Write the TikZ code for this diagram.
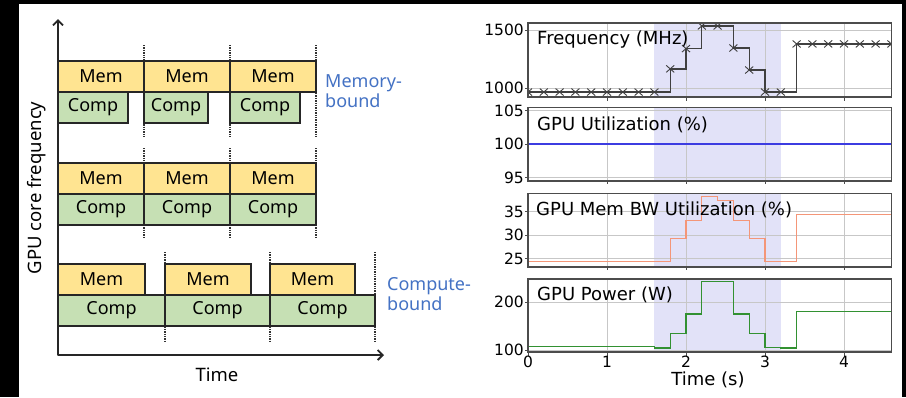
\documentclass[tikz,border=0pt]{standalone}
\usepackage{fontspec}
\setmainfont{Noto Sans}
\newfontfamily\plotfamily{DejaVu Sans}
\usetikzlibrary{arrows.meta, positioning}

\definecolor{memfill}{RGB}{255,228,145}
\definecolor{compfill}{RGB}{198,224,180}
\definecolor{boundblue}{RGB}{68,114,196}
\definecolor{spanblue}{RGB}{226,226,248}
\definecolor{utilblue}{RGB}{60,60,225}
\definecolor{bwsalmon}{RGB}{244,150,120}
\definecolor{powgreen}{RGB}{50,145,50}

\begin{document}
\begin{tikzpicture}[x=1pt, y=-1pt,
    every node/.style={inner sep=0pt},
    membox/.style={draw=black!85, line width=1.6pt, fill=memfill, minimum height=31pt,
      font=\fontsize{18}{20}\selectfont},
    compbox/.style={membox, fill=compfill},
    cyclesep/.style={black!80, line width=1.4pt, densely dotted},
    axisline/.style={line width=1.8pt, black!85, line join=round,
      {Straight Barb[length=5pt, width=10pt]}-{Straight Barb[length=5pt, width=10pt]}},
    sidelabel/.style={font=\fontsize{18}{20}\selectfont, text=boundblue, anchor=base west},
    leftlabel/.style={font=\fontsize{18.5}{20}\selectfont},
    panelframe/.style={draw=black!70, line width=1.3pt},
    gridline/.style={black!22, line width=0.8pt},
    tickmark/.style={black!70, line width=1pt},
    paneltitle/.style={font=\plotfamily\fontsize{18}{20}\selectfont, anchor=west},
    ticklabel/.style={font=\plotfamily\fontsize{15.5}{18}\selectfont},
    xmk/.style={black!75, line width=0.9pt},
  ]
  % frame of the picture
  \fill[black] (0,0) rectangle (906,397);
  \fill[white] (19,4) rectangle (902,397);

  %% left: memory-bound vs compute-bound
  \draw[cyclesep] (144,45) -- (144,137);
  \draw[cyclesep] (230,45) -- (230,137);
  \draw[cyclesep] (316,45) -- (316,137);
  \draw[cyclesep] (144,148) -- (144,238);
  \draw[cyclesep] (230,148) -- (230,238);
  \draw[cyclesep] (316,148) -- (316,238);
  \draw[cyclesep] (165,252) -- (165,342);
  \draw[cyclesep] (270,252) -- (270,342);
  \draw[cyclesep] (375,252) -- (375,342);

  \node[membox, minimum width=86pt] (memA1) at (101,76.5) {Mem};
  \node[membox, minimum width=86pt] (memA2) at (187,76.5) {Mem};
  \node[membox, minimum width=86pt] (memA3) at (273,76.5) {Mem};
  \node[compbox, minimum width=70pt] (compA1) at (93,107.5) {Comp};
  \node[compbox, minimum width=64pt] (compA2) at (176,107.5) {Comp};
  \node[compbox, minimum width=70pt] (compA3) at (265,107.5) {Comp};

  \node[membox, minimum width=86pt] (memB1) at (101,178.5) {Mem};
  \node[membox, minimum width=86pt] (memB2) at (187,178.5) {Mem};
  \node[membox, minimum width=86pt] (memB3) at (273,178.5) {Mem};
  \node[compbox, minimum width=86pt] (compB1) at (101,209.5) {Comp};
  \node[compbox, minimum width=86pt] (compB2) at (187,209.5) {Comp};
  \node[compbox, minimum width=86pt] (compB3) at (273,209.5) {Comp};

  \node[membox, minimum width=87pt] (memC1) at (101.5,279.5) {Mem};
  \node[membox, minimum width=86pt] (memC2) at (208,279.5) {Mem};
  \node[membox, minimum width=85pt] (memC3) at (312.5,279.5) {Mem};
  \node[compbox, minimum width=107pt] (compC1) at (111.5,310.5) {Comp};
  \node[compbox, minimum width=105pt] (compC2) at (217.5,310.5) {Comp};
  \node[compbox, minimum width=105pt] (compC3) at (322.5,310.5) {Comp};

  \node[sidelabel] (memboundA) at (325,87) {Memory-};
  \node[sidelabel] (memboundB) at (325,107) {bound};
  \node[sidelabel] (compboundA) at (387,290) {Compute-};
  \node[sidelabel] (compboundB) at (387,310) {bound};

  \coordinate (origin) at (58,355);
  \coordinate (ytip) at (58,19);
  \coordinate (xtip) at (384,355);
  \draw[axisline] (ytip) -- (origin) -- (xtip);
  \node[leftlabel] (timelabel) at (217,375) {Time};
  \node[leftlabel, rotate=90] (freqlabel) at (37,188) {GPU core frequency};

  %% right: measured traces
  % frequency
  \begin{scope}[shift={(528,204)}, x=79pt, y=0.116pt]
    \fill[spanblue] (1.6,922) rectangle (3.2,1560);
    \foreach \t in {1,2,3,4} \draw[gridline] (\t,922) -- (\t,1560);
    \draw[gridline] (0,1000) -- (4.6,1000);
    \draw[gridline] (0,1500) -- (4.6,1500);
    \draw[black!75, line width=1.3pt] (0,965) -- (1.8,965) -- (1.8,1165) -- (2.0,1165)
      -- (2.0,1340) -- (2.2,1340) -- (2.2,1535) -- (2.6,1535) -- (2.6,1345) -- (2.8,1345)
      -- (2.8,1155) -- (3.0,1155) -- (3.0,965) -- (3.4,965) -- (3.4,1380) -- (4.6,1380);
    \begin{scope}
      \clip (0,922) rectangle (4.6,1560);
      \foreach \t/\v in {0/965,0.2/965,0.4/965,0.6/965,0.8/965,1.0/965,1.2/965,1.4/965,
          1.6/965,1.8/1165,2.0/1340,2.2/1535,2.4/1535,2.6/1345,2.8/1155,3.0/965,3.2/965,
          3.4/1380,3.6/1380,3.8/1380,4.0/1380,4.2/1380,4.4/1380,4.6/1380}
        \draw[xmk] (\t,\v) +(-4pt,-3.5pt) -- +(4pt,3.5pt) +(-4pt,3.5pt) -- +(4pt,-3.5pt);
    \end{scope}
    \draw[panelframe] (0,922) rectangle (4.6,1560);
    \foreach \t in {1,2,3,4} \draw[tickmark] (\t,922) -- ++(0pt,-3.5pt);
    \draw[tickmark] (0,1000) -- ++(-3.5pt,0pt);
    \draw[tickmark] (0,1500) -- ++(-3.5pt,0pt);
    \node[ticklabel, anchor=east] (fA) at ([xshift=-4pt]0,1500) {1500};
    \node[ticklabel, anchor=east] (fB) at ([xshift=-4pt]0,1000) {1000};
  \end{scope}

  % utilization
  \begin{scope}[shift={(528,814)}, x=79pt, y=6.7pt]
    \fill[spanblue] (1.6,94.5) rectangle (3.2,105.5);
    \foreach \t in {1,2,3,4} \draw[gridline] (\t,94.5) -- (\t,105.5);
    \foreach \v in {95,100,105} \draw[gridline] (0,\v) -- (4.6,\v);
    \draw[utilblue, line width=1.3pt] (0,100) -- (4.6,100);
    \draw[panelframe] (0,94.5) rectangle (4.6,105.5);
    \foreach \t in {1,2,3,4} \draw[tickmark] (\t,94.5) -- ++(0pt,-3.5pt);
    \foreach \v in {95,100,105} \draw[tickmark] (0,\v) -- ++(-3.5pt,0pt);
    \node[ticklabel, anchor=east] (uA) at ([xshift=-4pt]0,105) {105};
    \node[ticklabel, anchor=east] (uB) at ([xshift=-4pt]0,100) {100};
    \node[ticklabel, anchor=east] (uC) at ([xshift=-4pt]0,95) {95};
  \end{scope}

  % memory bandwidth
  \begin{scope}[shift={(528,376)}, x=79pt, y=4.7pt]
    \fill[spanblue] (1.6,23.2) rectangle (3.2,38.9);
    \foreach \t in {1,2,3,4} \draw[gridline] (\t,23.2) -- (\t,38.9);
    \foreach \v in {25,30,35} \draw[gridline] (0,\v) -- (4.6,\v);
    \draw[bwsalmon, line width=1.2pt] (0,24.4) -- (1.8,24.4) -- (1.8,29.2) -- (2.0,29.2)
      -- (2.0,33.1) -- (2.2,33.1) -- (2.2,38.2) -- (2.4,38.2) -- (2.4,37.3) -- (2.6,37.3)
      -- (2.6,33.1) -- (2.8,33.1) -- (2.8,29.2) -- (3.0,29.2) -- (3.0,24.4) -- (3.4,24.4)
      -- (3.4,34.4) -- (4.6,34.4);
    \draw[panelframe] (0,23.2) rectangle (4.6,38.9);
    \foreach \t in {1,2,3,4} \draw[tickmark] (\t,23.2) -- ++(0pt,-3.5pt);
    \foreach \v in {25,30,35} \draw[tickmark] (0,\v) -- ++(-3.5pt,0pt);
    \node[ticklabel, anchor=east] (bA) at ([xshift=-4pt]0,35) {35};
    \node[ticklabel, anchor=east] (bB) at ([xshift=-4pt]0,30) {30};
    \node[ticklabel, anchor=east] (bC) at ([xshift=-4pt]0,25) {25};
  \end{scope}

  % power
  \begin{scope}[shift={(528,398)}, x=79pt, y=0.48pt]
    \fill[spanblue] (1.6,95.8) rectangle (3.2,247.9);
    \foreach \t in {1,2,3,4} \draw[gridline] (\t,95.8) -- (\t,247.9);
    \foreach \v in {100,200} \draw[gridline] (0,\v) -- (4.6,\v);
    \draw[powgreen, line width=1.2pt] (0,108) -- (1.6,108) -- (1.6,104) -- (1.8,104)
      -- (1.8,135) -- (2.0,135) -- (2.0,175) -- (2.2,175) -- (2.2,242) -- (2.6,242)
      -- (2.6,175) -- (2.8,175) -- (2.8,135) -- (3.0,135) -- (3.0,106) -- (3.2,106)
      -- (3.2,104) -- (3.4,104) -- (3.4,181) -- (4.6,181);
    \draw[panelframe] (0,95.8) rectangle (4.6,247.9);
    \foreach \t in {0,1,2,3,4} \draw[tickmark] (\t,95.8) -- ++(0pt,-3.5pt);
    \foreach \v in {100,200} \draw[tickmark] (0,\v) -- ++(-3.5pt,0pt);
    \node[ticklabel, anchor=east] (pA) at ([xshift=-4pt]0,200) {200};
    \node[ticklabel, anchor=east] (pB) at ([xshift=-4pt]0,100) {100};
    \foreach \t in {0,1,2,3,4}
      \node[ticklabel, anchor=north] (tx\t) at ([yshift=-4pt]\t,95.8) {\t};
  \end{scope}

  \node[paneltitle] (titlefreq) at (537,40) {Frequency (MHz)};
  \node[paneltitle] (titleutil) at (537,125) {GPU Utilization (\%)};
  \node[paneltitle] (titlebw) at (536,210) {GPU Mem BW Utilization (\%)};
  \node[paneltitle] (titlepow) at (537,295) {GPU Power (W)};
  \node[font=\plotfamily\fontsize{18}{20}\selectfont] (timesec) at (708,380) {Time (s)};
\end{tikzpicture}
\end{document}
